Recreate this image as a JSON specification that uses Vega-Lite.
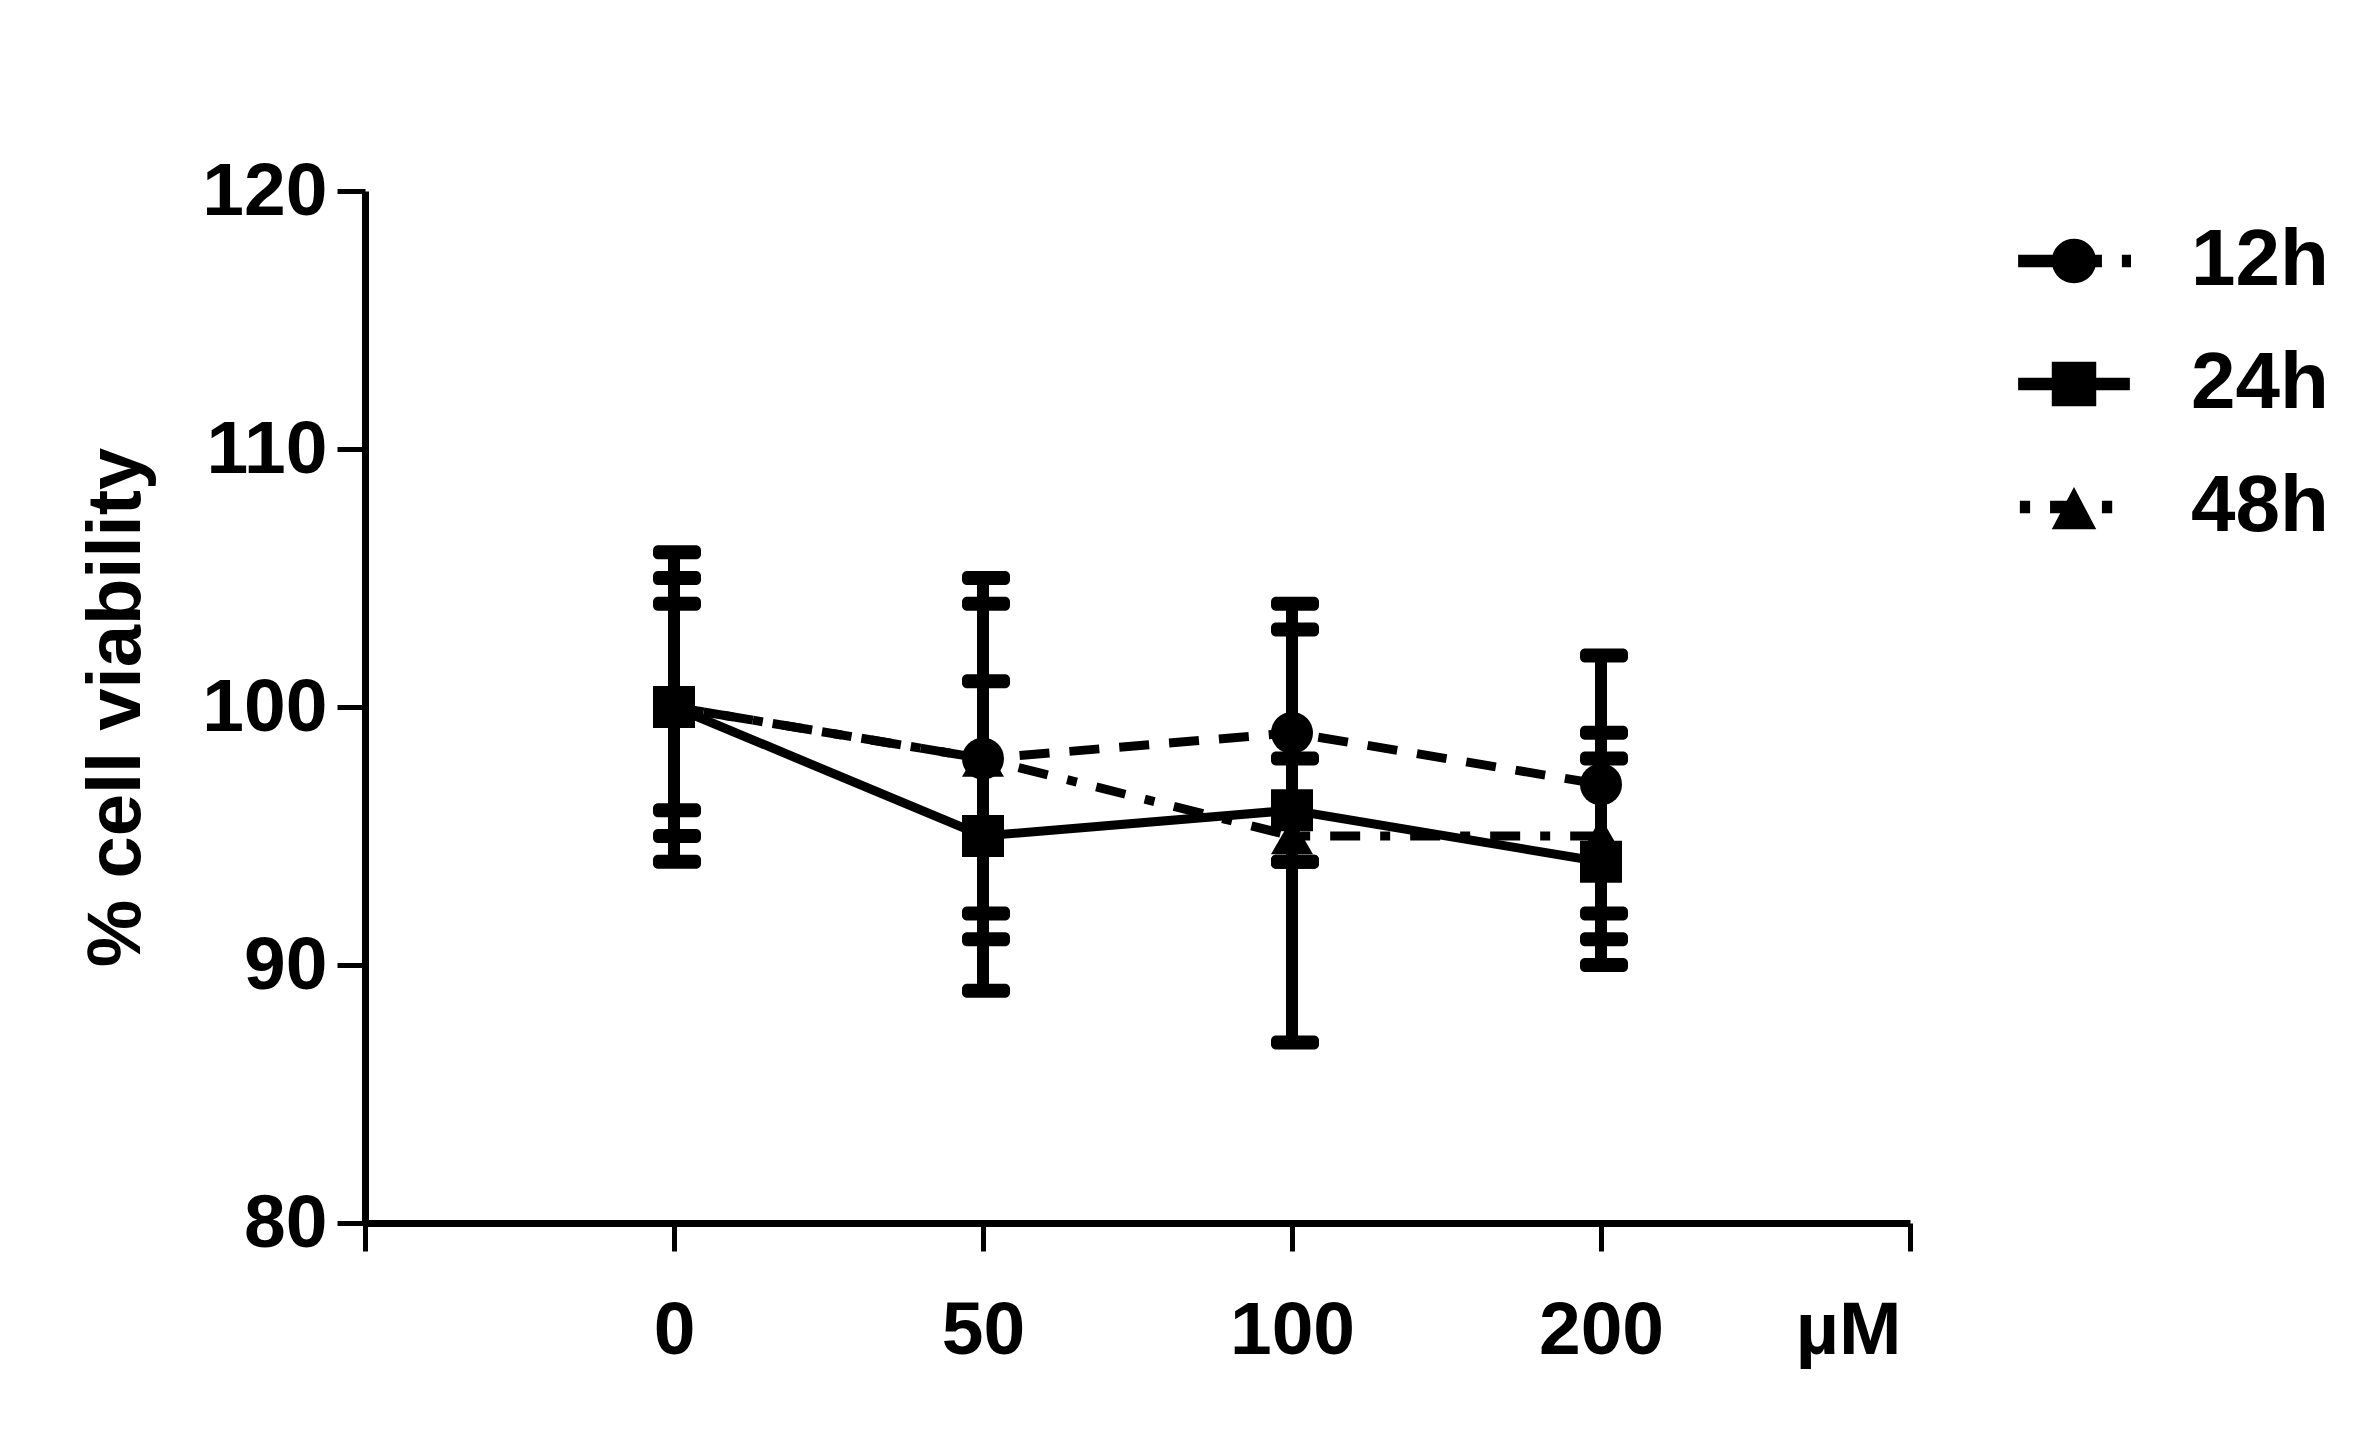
{
  "$schema": "https://vega.github.io/schema/vega-lite/v6.json",
  "autosize": "none",
  "width": 1545,
  "height": 1032,
  "padding": {"left": 365, "top": 191, "right": 452, "bottom": 227},
  "background": "white",
  "config": {
    "view": {"stroke": null},
    "font": "Liberation Sans",
    "axis": {
      "domainColor": "black",
      "tickColor": "black",
      "labelColor": "black",
      "titleColor": "black",
      "labelFont": "Liberation Sans",
      "titleFont": "Liberation Sans",
      "labelFontWeight": "bold",
      "titleFontWeight": "bold",
      "grid": false,
      "domainWidth": 7,
      "tickWidth": 5,
      "tickSize": 28
    }
  },
  "data": {
    "values": [
      {"series": "12h", "dose": "0", "mean": 100, "lo": 94, "hi": 106},
      {"series": "12h", "dose": "50", "mean": 98, "lo": 91, "hi": 105},
      {"series": "12h", "dose": "100", "mean": 99, "lo": 94, "hi": 104},
      {"series": "12h", "dose": "200", "mean": 97, "lo": 92, "hi": 102},
      {"series": "24h", "dose": "0", "mean": 100, "lo": 95, "hi": 105},
      {"series": "24h", "dose": "50", "mean": 95, "lo": 89, "hi": 101},
      {"series": "24h", "dose": "100", "mean": 96, "lo": 94, "hi": 98},
      {"series": "24h", "dose": "200", "mean": 94, "lo": 90, "hi": 98},
      {"series": "48h", "dose": "0", "mean": 100, "lo": 96, "hi": 104},
      {"series": "48h", "dose": "50", "mean": 98, "lo": 92, "hi": 104},
      {"series": "48h", "dose": "100", "mean": 95, "lo": 87, "hi": 103},
      {"series": "48h", "dose": "200", "mean": 95, "lo": 91, "hi": 99}
    ]
  },
  "encoding": {
    "x": {
      "field": "dose",
      "type": "ordinal",
      "scale": {"type": "point", "domain": ["lo", "0", "50", "100", "200", "hi"], "padding": 0},
      "axis": {
        "title": "µM",
        "labelAngle": 0,
        "labelExpr": "datum.value == 'lo' || datum.value == 'hi' ? '' : datum.value",
        "labelFontSize": 75,
        "labelBaseline": "alphabetic",
        "labelPadding": 102,
        "titleFontSize": 75,
        "titleX": 1536,
        "titleY": 130,
        "titleAlign": "right",
        "titleBaseline": "alphabetic",
        "titleAnchor": "end"
      }
    }
  },
  "layer": [
    {
      "transform": [{"filter": "datum.series == '12h'"}],
      "mark": {"type": "line", "strokeWidth": 9, "color": "black", "strokeCap": "butt", "strokeDash": [30, 20]},
      "encoding": {
        "y": {
          "field": "mean",
          "type": "quantitative",
          "scale": {"domain": [80, 120], "nice": false, "zero": false},
          "axis": {
            "values": [80, 90, 100, 110, 120],
            "title": "% cell viability",
            "labelFontSize": 75,
            "labelPadding": 10,
            "labelFlush": false,
            "labelOverlap": false,
            "titleFontSize": 76,
            "titleAngle": -90,
            "titleX": -226,
            "titleY": 516,
            "titleAlign": "center",
            "titleBaseline": "alphabetic"
          }
        },
        "order": {"value": null}
      }
    },
    {
      "transform": [{"filter": "datum.series == '24h'"}],
      "mark": {"type": "line", "strokeWidth": 9, "color": "black", "strokeCap": "butt"},
      "encoding": {
        "y": {"field": "mean", "type": "quantitative"},
        "order": {"value": null}
      }
    },
    {
      "transform": [{"filter": "datum.series == '48h'"}],
      "mark": {"type": "line", "strokeWidth": 9, "color": "black", "strokeCap": "butt", "strokeDash": [10, 20, 30, 20]},
      "encoding": {
        "y": {"field": "mean", "type": "quantitative"},
        "order": {"value": null}
      }
    },
    {
      "mark": {"type": "rule", "strokeWidth": 12, "color": "black"},
      "encoding": {
        "y": {"field": "lo", "type": "quantitative"},
        "y2": {"field": "hi"}
      }
    },
    {
      "mark": {"type": "tick", "color": "black", "size": 48, "thickness": 14, "opacity": 1, "cornerRadius": 5, "xOffset": 3},
      "encoding": {
        "y": {"field": "lo", "type": "quantitative"}
      }
    },
    {
      "mark": {"type": "tick", "color": "black", "size": 48, "thickness": 14, "opacity": 1, "cornerRadius": 5, "xOffset": 3},
      "encoding": {
        "y": {"field": "hi", "type": "quantitative"}
      }
    },
    {
      "transform": [{"filter": "datum.series == '48h'"}],
      "mark": {"type": "point", "filled": true, "color": "black", "opacity": 1, "size": 1764, "shape": "triangle-up"},
      "encoding": {
        "y": {"field": "mean", "type": "quantitative"}
      }
    },
    {
      "transform": [{"filter": "datum.series == '12h'"}],
      "mark": {"type": "point", "filled": true, "color": "black", "opacity": 1, "size": 1764, "shape": "circle"},
      "encoding": {
        "y": {"field": "mean", "type": "quantitative"}
      }
    },
    {
      "transform": [{"filter": "datum.series == '24h'"}],
      "mark": {"type": "point", "filled": true, "color": "black", "opacity": 1, "size": 1764, "shape": "square"},
      "encoding": {
        "y": {"field": "mean", "type": "quantitative"}
      }
    },
    {
      "mark": {"type": "point", "filled": true, "color": "black", "opacity": 0, "size": 100},
      "encoding": {
        "y": {"field": "mean", "type": "quantitative"},
        "shape": {
          "field": "series",
          "type": "nominal",
          "scale": {
            "domain": ["12h", "24h", "48h"],
            "range": [
              "M-0.98,-0.11H-0.3V0.11H-0.98Z M-0.39,0A0.39,0.39 0 1,1 0.39,0A0.39,0.39 0 1,1 -0.39,0Z M0.3,-0.11H0.49V0.11H0.3Z M0.84,-0.11H1V0.11H0.84Z",
              "M-0.98,-0.11H0.98V0.11H-0.98Z M-0.39,-0.39H0.39V0.39H-0.39Z",
              "M-0.95,-0.11H-0.77V0.11H-0.95Z M-0.42,-0.11H-0.1V0.11H-0.42Z M0,-0.35L0.39,0.39L-0.39,0.39Z M0.49,-0.11H0.67V0.11H0.49Z"
            ]
          },
          "legend": {
            "title": null,
            "orient": "none",
            "legendX": 1652,
            "legendY": 13,
            "padding": 0,
            "symbolSize": 12996,
            "symbolFillColor": "black",
            "symbolStrokeColor": "black",
            "symbolStrokeWidth": 0,
            "symbolOpacity": 1,
            "labelFontSize": 80,
            "labelFont": "Liberation Sans",
            "labelFontWeight": "bold",
            "labelColor": "black",
            "labelOffset": 60,
            "rowPadding": 26
          }
        }
      }
    }
  ]
}
